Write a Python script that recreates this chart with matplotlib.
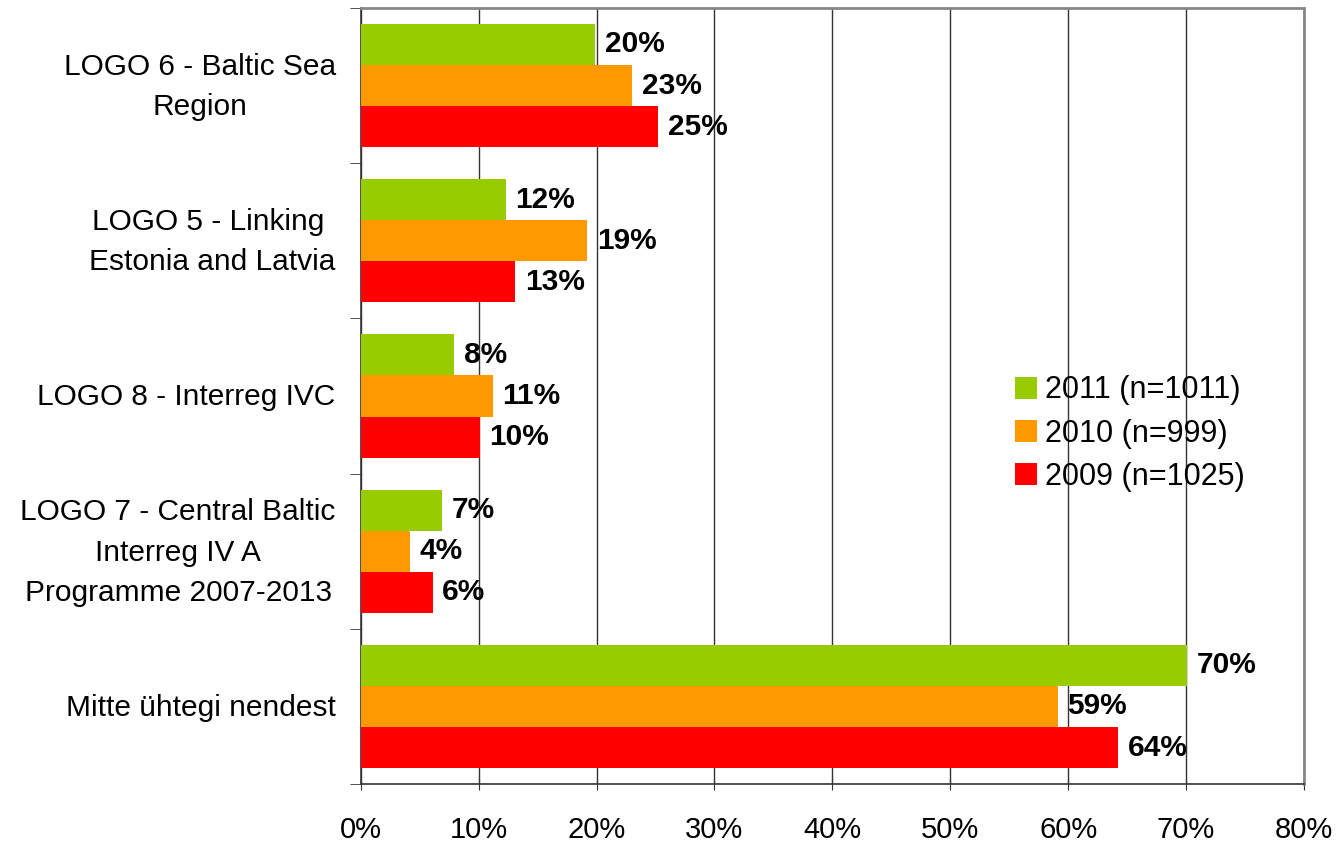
import matplotlib
matplotlib.use("Agg")
import matplotlib.pyplot as plt
import numpy as np

plt.rcParams['font.family'] = ['Liberation Sans', 'DejaVu Sans']

categories = ["LOGO 6 - Baltic Sea\nRegion",
              "LOGO 5 - Linking \nEstonia and Latvia",
              "LOGO 8 - Interreg IVC",
              "LOGO 7 - Central Baltic\nInterreg IV A\nProgramme 2007-2013",
              "Mitte ühtegi nendest"]
series_names = ["2011 (n=1011)", "2010 (n=999)", "2009 (n=1025)"]
v2011 = [19.9, 12.3, 7.9, 6.9, 70.1]
v2010 = [23.0, 19.2, 11.2, 4.2, 59.1]
v2009 = [25.2, 13.1, 10.1, 6.1, 64.2]
colors = ["#99CC00", "#FF9900", "#FF0000"]
xticks = [0, 10, 20, 30, 40, 50, 60, 70, 80]

fig = plt.figure(figsize=(13.41, 8.43), dpi=100)
ax = fig.add_axes([0.269, 0.070, 0.9724 - 0.269, 0.9905 - 0.070])

n = len(categories)
ypos = np.arange(n)
h = 0.265
for i, (vals, name, c) in enumerate(zip([v2011, v2010, v2009], series_names, colors)):
    y = ypos + (i - 1) * h
    ax.barh(y, vals, height=h, color=c, label=name, zorder=3)
    for yy, v in zip(y, vals):
        ax.annotate(f"{round(v):.0f}%", (v, yy), xytext=(7, 0), textcoords="offset points",
                    va="center", ha="left", fontsize=21.5, fontweight="bold", zorder=4)

ax.set_ylim(n - 0.5, -0.5)
ax.set_xlim(0, 80)
ax.set_xticks(xticks)
ax.set_xticklabels([f"{t}%" for t in xticks], fontsize=21)
ax.set_yticks(ypos)
ax.set_yticklabels([""] * n)
for yy, cat in zip(ypos, categories):
    ax.annotate(cat, (0, yy), xycoords=ax.get_yaxis_transform(), xytext=(-18, -1),
                textcoords="offset points", ha="right", va="center", fontsize=21.5,
                multialignment="center", linespacing=1.55, annotation_clip=False)
ax.set_yticks(np.arange(n + 1) - 0.5, minor=True)
ax.tick_params(axis="y", which="major", length=0)
ax.tick_params(axis="y", which="minor", length=8, direction="out", color="#333333")
ax.tick_params(axis="x", length=8, direction="inout", color="#333333", pad=19)
ax.grid(axis="x", color="#333333", linewidth=1.0, zorder=0)

for s in ["top", "right"]:
    ax.spines[s].set_color("#888888")
    ax.spines[s].set_linewidth(2)
for s in ["left", "bottom"]:
    ax.spines[s].set_color("#333333")
    ax.spines[s].set_linewidth(1.2)

ax.legend(loc="upper left", bbox_to_anchor=(0.664, 0.562), frameon=False, fontsize=22,
          handlelength=0.75, handleheight=0.75, handletextpad=0.25, labelspacing=0.43)

fig.savefig("out.png", dpi=100)
